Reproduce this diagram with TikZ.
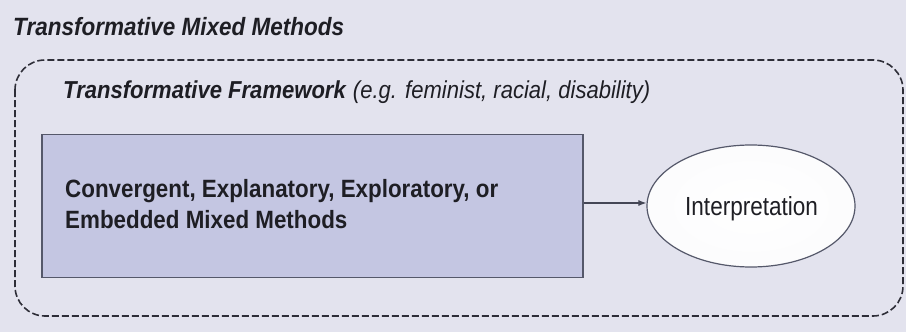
\documentclass[tikz,border=0pt]{standalone}
\usepackage{fontspec}
\usetikzlibrary{arrows.meta,shapes.geometric}
\newfontfamily\lsA[FakeStretch=0.90]{Liberation Sans}
\newfontfamily\lsC[FakeStretch=0.895]{Liberation Sans}
\newfontfamily\lsB[FakeStretch=0.86]{Liberation Sans}
\definecolor{bgc}{HTML}{E3E3EE}
\definecolor{boxc}{HTML}{C4C6E2}
\definecolor{edgec}{HTML}{55586A}
\definecolor{dashc}{HTML}{2E2E38}
\definecolor{txtc}{HTML}{1E1E24}
\tikzset{
  lbl/.style={anchor=base west, inner sep=0pt, text=txtc},
  dashframe/.style={draw=dashc, line width=1.6pt, dash pattern=on 7pt off 3pt, rounded corners=30pt},
  methodbox/.style={draw=edgec, line width=1.6pt, fill=boxc, minimum width=541pt, minimum height=143pt, inner sep=0pt},
  interp/.style={ellipse, draw=edgec, line width=1.2pt, inner color=white, outer color=white!88!bgc, minimum width=208pt, minimum height=122pt, inner sep=0pt},
  flow/.style={draw=edgec!80!black, line width=1.1pt, -{Latex[length=8pt,width=6pt]}}
}
\begin{document}
\begin{tikzpicture}[x=1pt,y=-1pt]
\fill[bgc] (0,0) rectangle (906,332);
\useasboundingbox (0,0) rectangle (906,332);
\node[lbl, font={\lsA\fontsize{25}{29}\selectfont\bfseries\itshape}] (title) at (13,35) {Transformative Mixed Methods};
\draw[dashframe] (15,60) rectangle (903,316);
\node[lbl, font={\lsA\fontsize{24.5}{28}\selectfont}] (frame) at (63,98) {\textbf{\textit{Transformative Framework}} \textit{(e.g. feminist, racial, disability)}};
\node[methodbox] (mm) at (312.5,206) {};
\node[lbl, font={\lsC\fontsize{25}{29}\selectfont\bfseries}] (l1) at (65,197) {Convergent, Explanatory, Exploratory, or};
\node[lbl, font={\lsC\fontsize{25}{29}\selectfont\bfseries}] (l2) at (65,228) {Embedded Mixed Methods};
\node[interp] (int) at (751,206) {};
\node[lbl, font={\lsB\fontsize{26.2}{30}\selectfont}] (it) at (685,215) {Interpretation};
\draw[flow] (mm.east |- 0,203) -- (int.west |- 0,203);
\end{tikzpicture}
\end{document}
